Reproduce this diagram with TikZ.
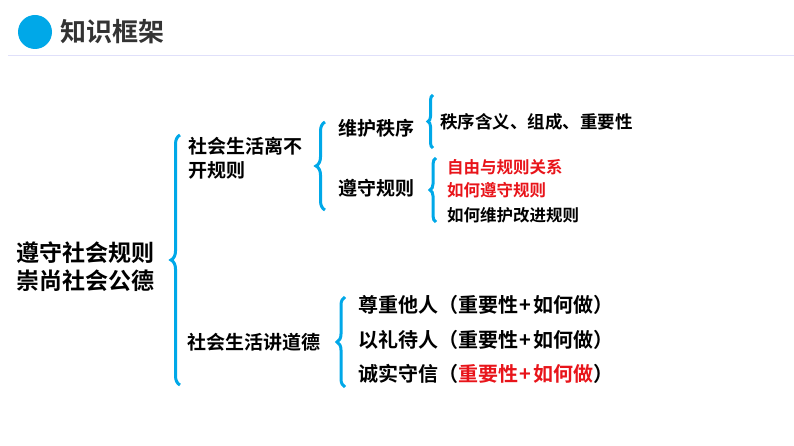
\documentclass[tikz,border=0pt]{standalone}
\usepackage{fontspec}
\setmainfont{Noto Sans CJK SC Bold}
\usetikzlibrary{decorations.pathreplacing}
\definecolor{cy}{HTML}{00A8E8}
\definecolor{rd}{HTML}{E8141A}
\tikzset{t/.style={anchor=west,inner sep=0pt,text=black},
 br/.style={draw=cy,line width=3pt,decorate,decoration={brace,amplitude=#1}}}
\newcommand{\pl}{\kern1.5pt+\kern1.5pt}
\begin{document}
\begin{tikzpicture}[x=1pt,y=-1pt]
\useasboundingbox (0,0) rectangle (794,446);
\fill[cy] (35,32) circle (17);
\node[t,text=black!80,font=\fontsize{26}{26}\selectfont] (h) at (60,32) {知识框架};
\draw[black!15!blue!12!white,line width=0.8pt] (8,55) -- (794,55);
\node[t,font=\fontsize{23}{28}\selectfont,align=left] (root) at (16,267) {遵守社会规则\\崇尚社会公德};
\draw[br=9pt] (180,385) -- (180,135);
\node[t,font=\fontsize{19}{24}\selectfont,align=left] (a) at (188,158) {社会生活离不\\开规则};
\node[t,font=\fontsize{19}{19}\selectfont] (b) at (187,342) {社会生活讲道德};
\draw[br=9pt] (325,210) -- (325,122);
\node[t,font=\fontsize{19}{19}\selectfont] (a1) at (338,128) {维护秩序};
\node[t,font=\fontsize{19}{19}\selectfont] (a2) at (338,188) {遵守规则};
\draw[br=5pt] (433,148) -- (433,95);
\node[t,font=\fontsize{17.5}{17.5}\selectfont] (c1) at (440,122) {秩序含义、组成、重要性};
\draw[br=6pt] (436,222) -- (436,158);
\node[t,text=rd,font=\fontsize{16.5}{16.5}\selectfont] (d1) at (447,167) {自由与规则关系};
\node[t,text=rd,font=\fontsize{16.5}{16.5}\selectfont] (d2) at (447,190) {如何遵守规则};
\node[t,font=\fontsize{16.5}{16.5}\selectfont] (d3) at (447,215) {如何维护改进规则};
\draw[br=8pt] (345,387) -- (345,297);
\node[t,font=\fontsize{20}{20}\selectfont] (e1) at (358,305) {尊重他人（重要性\pl 如何做）};
\node[t,font=\fontsize{20}{20}\selectfont] (e2) at (358,340) {以礼待人（重要性\pl 如何做）};
\node[t,font=\fontsize{20}{20}\selectfont] (e3) at (358,374) {诚实守信（\textcolor{rd}{重要性\pl 如何做}）};
\end{tikzpicture}
\end{document}
